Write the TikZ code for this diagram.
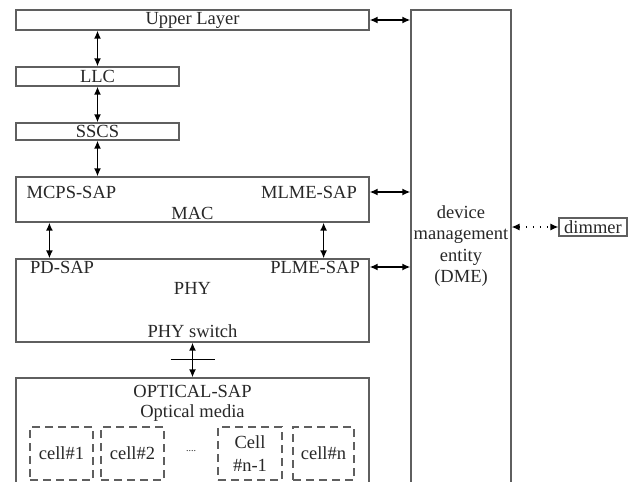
\documentclass[tikz,border=0pt]{standalone}
\usepackage{fontspec}
\setmainfont{Liberation Serif}
\usetikzlibrary{arrows.meta,calc}
\definecolor{boxgray}{RGB}{95,95,95}
\definecolor{txtgray}{RGB}{40,40,40}
\tikzset{
  box/.style={draw=boxgray, line width=1.2pt, rectangle, inner sep=0pt},
  cellbox/.style={draw=boxgray, line width=1.4pt, dash pattern=on 8pt off 5pt, rectangle, inner sep=0pt},
  lbl/.style={text=txtgray, inner sep=0pt, font=\fontsize{18.5}{21.5}\selectfont},
  link/.style={{Latex[length=8pt,width=7pt]}-{Latex[length=8pt,width=7pt]}, line width=1.7pt},
  dotlink/.style={{Latex[length=8pt,width=7pt]}-{Latex[length=8pt,width=7pt]}, line width=1.3pt, dash pattern=on 1.5pt off 5.5pt}
}
\begin{document}
\begin{tikzpicture}[x=1pt,y=-1pt]
\clip (0,0) rectangle (635,482);
\fill[white] (0,0) rectangle (635,482);

% protocol stack boxes
\node[box, minimum width=353pt, minimum height=20pt] (upper) at (192.5,20) {};
\node[lbl] at (upper) {Upper Layer};
\node[box, minimum width=163pt, minimum height=19pt] (llc) at (97.5,76.5) {};
\node[lbl] at (llc) {LLC};
\node[box, minimum width=163pt, minimum height=17pt] (sscs) at (97.5,131.5) {};
\node[lbl] at (sscs) {SSCS};

\node[box, minimum width=353pt, minimum height=45pt] (mac) at (192.5,199.5) {};
\node[lbl, anchor=west] (mcps) at (26.5,192) {MCPS-SAP};
\node[lbl, anchor=east] (mlme) at (357,192) {MLME-SAP};
\node[lbl] at (192.5,213) {MAC};

\node[box, minimum width=353pt, minimum height=83pt] (phy) at (192.5,300.5) {};
\node[lbl, anchor=west] (pd) at (30,267) {PD-SAP};
\node[lbl, anchor=east] (plme) at (360,267) {PLME-SAP};
\node[lbl] at (192.5,288.5) {PHY};
\node[lbl] (sw) at (192.5,331) {PHY switch};

\node[box, minimum width=353pt, minimum height=142pt] (optical) at (192.5,449) {};
\node[lbl] at (192.5,391.5) {OPTICAL-SAP};
\node[lbl] at (192.5,413) {Optical media};

% optical cells
\node[cellbox, minimum width=63pt, minimum height=53pt] (c1) at (61.5,453.5) {};
\node[lbl] at (c1) {cell\#1};
\node[cellbox, minimum width=63pt, minimum height=53pt] (c2) at (132.5,453.5) {};
\node[lbl] at (c2) {cell\#2};
\node[lbl, font=\fontsize{10}{10}\selectfont] at (191,451) {....};
\node[cellbox, minimum width=64pt, minimum height=53pt] (cn1) at (250,453.5) {};
\node[lbl, align=center, font=\fontsize{18.5}{23}\selectfont] at (cn1) {Cell\\\#n-1};
\node[cellbox, minimum width=61pt, minimum height=53pt] (cn) at (323.5,453.5) {};
\node[lbl] at (cn) {cell\#n};

% management entity and dimmer
\node[box, minimum width=100pt, minimum height=510pt] (dme) at (461,265) {};
\node[lbl, align=center] at (461,246) {device\\management\\entity\\(DME)};
\node[box, minimum width=68pt, minimum height=18pt] (dimmer) at (593,227) {};
\node[lbl] at (dimmer) {dimmer};

% vertical links
\draw[link] (upper.south -| llc.north) -- (llc.north);
\draw[link] (llc.south) -- (sscs.north);
\draw[link] (sscs.south) -- (sscs.south |- mac.north);
\draw[link] ([xshift=34pt]mac.south west) -- ([xshift=34pt]phy.north west);
\draw[link] ([xshift=-46pt]mac.south east) -- ([xshift=-46pt]phy.north east);
\draw[link] (phy.south) -- (optical.north);
\draw[line width=1.1pt] ($(phy.south)!0.48!(optical.north)+(-22,0)$) -- ++(44,0);

% links to the management entity
\draw[link] (upper.east) -- (upper.east -| dme.west);
\draw[link] (mac.east |- mlme) -- (dme.west |- mlme);
\draw[link] (phy.east |- plme) -- (dme.west |- plme);
\draw[dotlink] (dme.east |- dimmer) -- (dimmer.west);
\end{tikzpicture}
\end{document}
